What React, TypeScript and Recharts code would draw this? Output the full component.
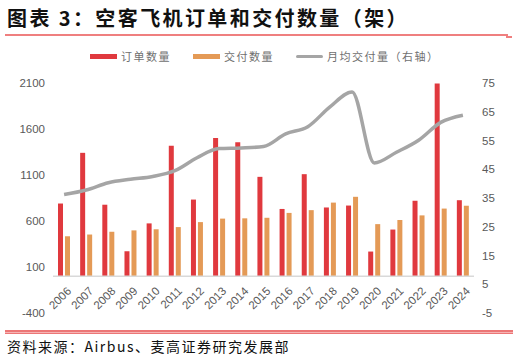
import { ComposedChart, Bar, Line, XAxis, YAxis, ReferenceLine } from 'recharts';

const years = ['2006', '2007', '2008', '2009', '2010', '2011', '2012', '2013', '2014', '2015', '2016', '2017', '2018', '2019', '2020', '2021', '2022', '2023', '2024'];
const orders = [790, 1341, 777, 271, 574, 1419, 833, 1503, 1456, 1080, 731, 1109, 747, 768, 268, 507, 820, 2094, 826];
const deliveries = [434, 453, 483, 498, 510, 534, 588, 626, 629, 635, 688, 718, 800, 863, 566, 611, 661, 735, 766];
const monthlyAvg = [36.2, 37.8, 40.3, 41.5, 42.5, 44.5, 49.0, 52.2, 52.4, 52.9, 57.3, 59.8, 66.7, 71.9, 47.2, 50.9, 55.1, 61.3, 63.8];
const leftTicks = [-400, 100, 600, 1100, 1600, 2100];
const rightTicks = [-5, 5, 15, 25, 35, 45, 55, 65, 75];

const data = years.map((y, i) => ({
    year: y,
    orders: orders[i],
    deliveries: deliveries[i],
    avg: monthlyAvg[i],
}));

const RED = '#e0393e';
const ORANGE = '#e49a56';
const GRAY = '#a5a5a5';
const TXT = '#595959';
const FONT = '"Liberation Sans", Arial, "Noto Sans CJK SC", sans-serif';

const YearTick = (props: any) => {
    const { x, y, payload } = props;
    return (
        <g transform={`translate(${x + 5},${y - 32})`}>
            <text textAnchor="end" transform="rotate(-45)" fill={TXT} fontSize={11.5} fontFamily={FONT} dy={4}>
                {payload.value}
            </text>
        </g>
    );
};

const LegendItem = ({ color, label, h }: { color: string; label: string; h: number }) => (
    <div style={{ display: 'flex', alignItems: 'center', marginRight: 22 }}>
        <div style={{ width: 27, height: h, background: color, borderRadius: h > 3 ? 0 : 2, marginRight: 4 }} />
        <span style={{ fontSize: 11, color: '#707070', letterSpacing: 1.5 }}>{label}</span>
    </div>
);

export default function App() {
    return (
        <div style={{ position: 'absolute', left: 0, top: 0, width: 518, height: 358, background: '#fff', fontFamily: '"Noto Sans CJK SC", sans-serif', overflow: 'hidden' }}>
            <div style={{ position: 'absolute', left: 7, top: 3, fontSize: 20, fontWeight: 700, color: '#111', letterSpacing: 2.4, whiteSpace: 'nowrap' }}>
                图表 3：空客飞机订单和交付数量（架）
            </div>
            <div style={{ position: 'absolute', left: 5, top: 34, width: 503, height: 2, background: '#ef7f7f' }} />
            <div style={{ position: 'absolute', left: 506, top: 36, width: 6, height: 1.5, background: '#ef7f7f' }} />

            <div style={{ position: 'absolute', left: 90, top: 48, display: 'flex', whiteSpace: 'nowrap' }}>
                <LegendItem color={RED} label="订单数量" h={5} />
                <LegendItem color={ORANGE} label="交付数量" h={5} />
                <LegendItem color={GRAY} label="月均交付量（右轴）" h={3} />
            </div>

            <div style={{ position: 'absolute', left: 0, top: 0 }}>
                <ComposedChart
                    width={518}
                    height={358}
                    data={data}
                    margin={{ top: 83, right: 9, left: 8, bottom: 44 }}
                    barGap={2}
                    barCategoryGap={5}
                >
                    <XAxis dataKey="year" axisLine={false} tickLine={false} height={1} tick={<YearTick />} interval={0} />
                    <YAxis
                        yAxisId="left"
                        domain={[-400, 2100]}
                        ticks={leftTicks}
                        width={45}
                        axisLine={false}
                        tickLine={false}
                        tick={{ fill: TXT, fontSize: 11.5, fontFamily: FONT }}
                        interval={0}
                    />
                    <YAxis
                        yAxisId="right"
                        orientation="right"
                        domain={[-5, 75]}
                        ticks={rightTicks}
                        width={35}
                        axisLine={false}
                        tickLine={false}
                        tick={{ fill: TXT, fontSize: 11.5, fontFamily: FONT }}
                        interval={0}
                    />
                    <ReferenceLine yAxisId="left" y={0} stroke="#d9d9d9" strokeWidth={1.5} />
                    <Bar yAxisId="left" dataKey="orders" fill={RED} barSize={5} isAnimationActive={false} />
                    <Bar yAxisId="left" dataKey="deliveries" fill={ORANGE} barSize={5} isAnimationActive={false} />
                    <Line
                        yAxisId="right"
                        type="monotone"
                        dataKey="avg"
                        stroke={GRAY}
                        strokeWidth={3.5}
                        dot={false}
                        isAnimationActive={false}
                    />
                </ComposedChart>
            </div>

            <div style={{ position: 'absolute', left: 5, top: 330, width: 508, height: 4, background: '#ec7676' }} />
            <div style={{ position: 'absolute', left: 5, top: 331.5, width: 508, height: 1, background: '#f6b4b4' }} />
            <div style={{ position: 'absolute', left: 7, top: 336, fontSize: 14, color: '#111', letterSpacing: 1.5, whiteSpace: 'nowrap' }}>
                资料来源：Airbus、麦高证券研究发展部
            </div>
        </div>
    );
}
